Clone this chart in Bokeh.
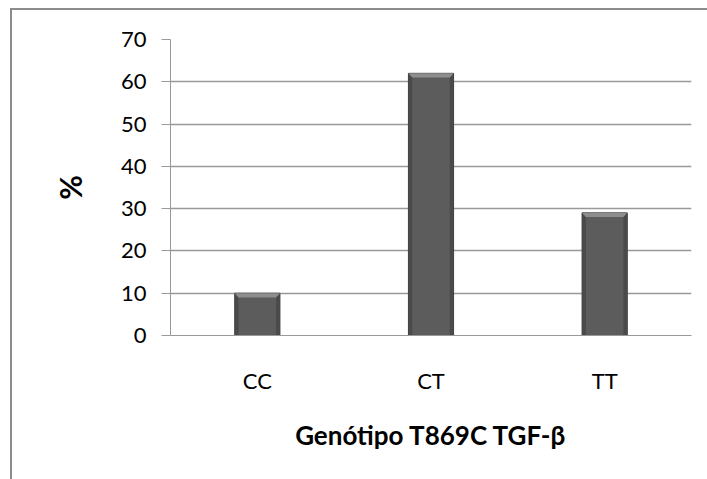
from bokeh.plotting import figure
from bokeh.models import FactorRange, Range1d, ColumnDataSource
from bokeh.embed import file_html
from bokeh.resources import INLINE

categories = ["CC", "CT", "TT"]
values = [10, 62, 29]
y_ticks = [0, 10, 20, 30, 40, 50, 60, 70]
x_title = "Genótipo T869C TGF-β"
y_title = "%"

FONT = "Lato"
bar_w = 0.26

p = figure(x_range=FactorRange(*categories, range_padding=0), y_range=Range1d(0, 70),
           width=697, height=471, output_backend="svg", toolbar_location=None,
           min_border_left=158, min_border_right=18, min_border_top=29, min_border_bottom=146)
p.styles = {"margin-left": "10px", "margin-top": "8px",
            "border-left": "2px solid #8c8c8c", "border-top": "2px solid #8c8c8c"}
p.outline_line_color = None
p.background_fill_color = "white"
p.border_fill_color = "white"

src = ColumnDataSource(dict(x=categories, top=values))
p.vbar(x="x", top="top", width=bar_w, source=src, fill_color="#5c5c5c",
       line_color="#3a3a3a", line_width=1)

# bevel (lighter top facet, darker side facets) derived from the bar values
top_xs, top_ys, side_xs, side_ys = [], [], [], []
bev_y = 1.0
bev_x = 0.022
for i, v in enumerate(values):
    c = i + 0.5
    l, r = c - bar_w / 2, c + bar_w / 2
    top_xs.append([l, r, r - bev_x, l + bev_x])
    top_ys.append([v, v, v - bev_y, v - bev_y])
    side_xs.append([l, l + bev_x, l + bev_x, l])
    side_ys.append([v, v - bev_y, 0, 0])
    side_xs.append([r, r - bev_x, r - bev_x, r])
    side_ys.append([v, v - bev_y, 0, 0])
p.patches(side_xs, side_ys, fill_color="#4a4a4a", line_color=None)
p.patches(top_xs, top_ys, fill_color="#8e8e8e", line_color=None)

p.xaxis.major_label_text_font = FONT
p.yaxis.major_label_text_font = FONT
p.xaxis.major_label_text_font_size = "22px"
p.yaxis.major_label_text_font_size = "22px"
p.xaxis.major_label_text_color = "black"
p.yaxis.major_label_text_color = "black"

p.yaxis.ticker = y_ticks
p.yaxis.major_tick_out = 9
p.yaxis.major_tick_in = 0
p.yaxis.minor_tick_line_color = None
p.yaxis.axis_line_color = "#999999"
p.yaxis.major_tick_line_color = "#999999"
p.yaxis.major_label_standoff = 15
p.yaxis.axis_label = y_title
p.yaxis.axis_label_text_font = FONT
p.yaxis.axis_label_text_font_style = "bold"
p.yaxis.axis_label_text_font_size = "30px"
p.yaxis.axis_label_text_color = "black"
p.yaxis.axis_label_standoff = 30

p.xaxis.axis_line_color = "#999999"
p.xaxis.major_tick_line_color = None
p.xaxis.major_tick_out = 0
p.xaxis.major_tick_in = 0
p.xaxis.major_label_standoff = 31
p.xaxis.axis_label = x_title
p.xaxis.axis_label_text_font = FONT
p.xaxis.axis_label_text_font_style = "bold"
p.xaxis.axis_label_text_font_size = "26px"
p.xaxis.axis_label_text_color = "black"
p.xaxis.axis_label_standoff = 22

p.xgrid.grid_line_color = None
p.ygrid.grid_line_color = "#999999"
p.ygrid.grid_line_width = 1.5

open("out.html", "w").write(file_html(p, INLINE))
